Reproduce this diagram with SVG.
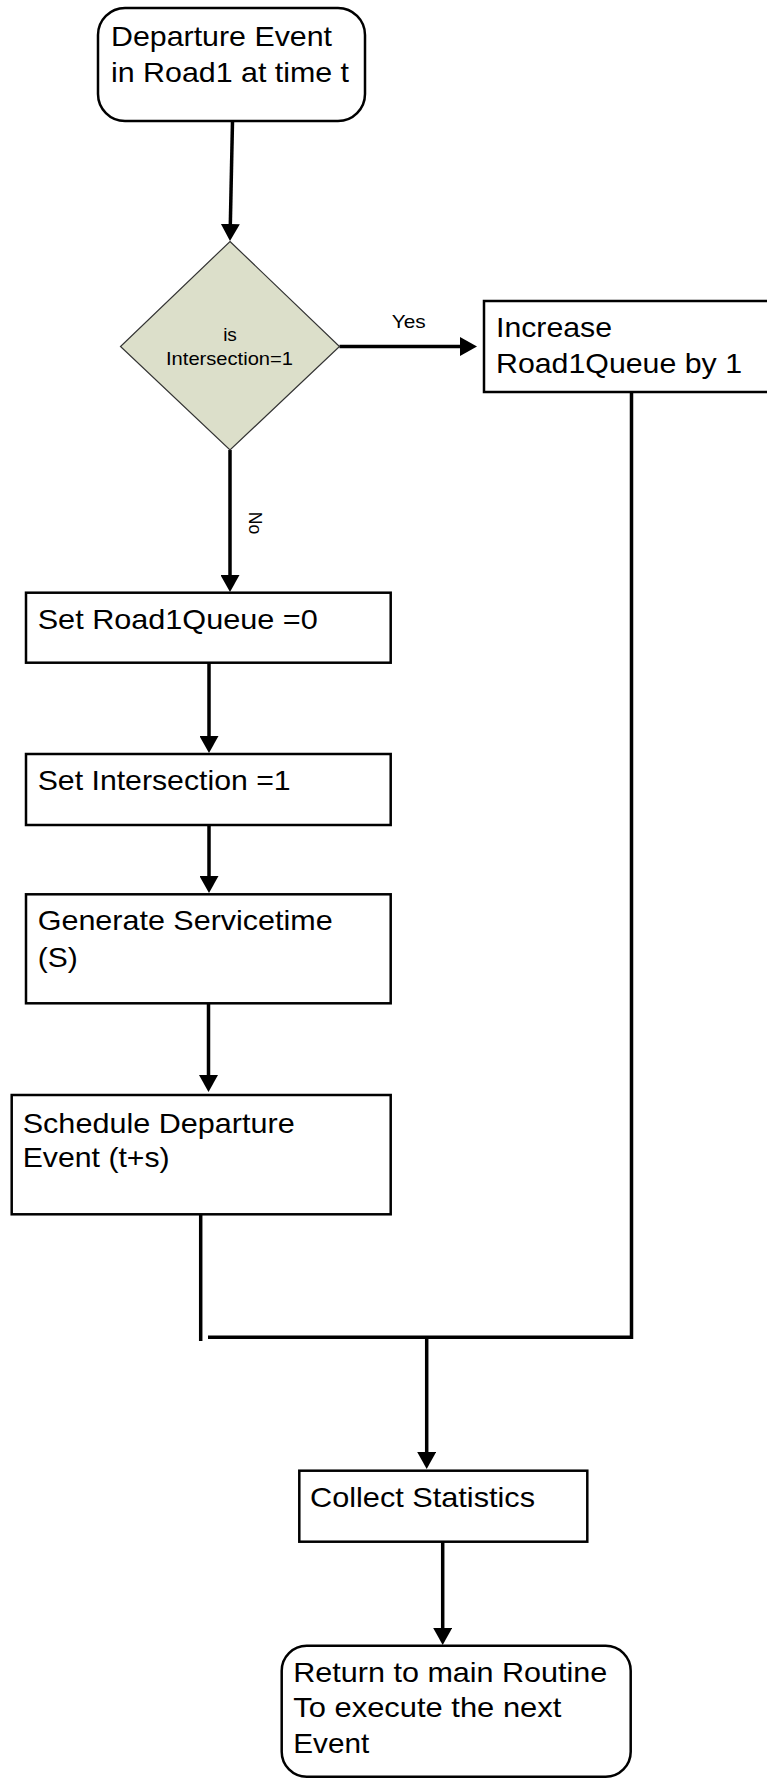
<svg xmlns="http://www.w3.org/2000/svg" width="767" height="1780" viewBox="0 0 767 1780">
  <style>
    .box { fill: #ffffff; stroke: #000000; stroke-width: 2.5; }
    .dec { fill: #dcdfca; stroke: #333333; stroke-width: 1.2; }
    .lbl { font-family: "Liberation Sans", Arial, sans-serif; font-size: 28px; fill: #000000; }
    .small { font-family: "Liberation Sans", Arial, sans-serif; font-size: 19px; fill: #000000; }
    .link { fill: none; stroke: #000000; stroke-width: 3.5; }
  </style>
  <defs>
    <marker id="arrow" markerUnits="userSpaceOnUse" viewBox="0 0 17 19" markerWidth="17" markerHeight="19" refX="11" refY="9.5" orient="auto">
      <path d="M0,0 L17,9.5 L0,19 z" fill="#000000"/>
    </marker>
  </defs>

  <rect width="767" height="1780" fill="#ffffff"/>

  <!-- flow links -->
  <g id="connectors">
    <line class="link" x1="232.5" y1="121" x2="230.1" y2="235" marker-end="url(#arrow)"/>
    <line class="link" x1="339.5" y1="346.5" x2="471" y2="346.5" marker-end="url(#arrow)"/>
    <line class="link" x1="230" y1="450" x2="230" y2="586" marker-end="url(#arrow)"/>
    <line class="link" x1="209" y1="663" x2="209" y2="747" marker-end="url(#arrow)"/>
    <line class="link" x1="209" y1="825" x2="209" y2="887" marker-end="url(#arrow)"/>
    <line class="link" x1="208.5" y1="1003" x2="208.5" y2="1086" marker-end="url(#arrow)"/>
    <line class="link" x1="200.7" y1="1214" x2="200.7" y2="1341"/>
    <polyline class="link" points="631.5,392 631.5,1337.3 208,1337.3"/>
    <line class="link" x1="426.7" y1="1337" x2="426.7" y2="1463" marker-end="url(#arrow)"/>
    <line class="link" x1="442.7" y1="1542" x2="442.7" y2="1639" marker-end="url(#arrow)"/>
    <text class="small" x="391.7" y="328.3" textLength="34" lengthAdjust="spacingAndGlyphs">Yes</text>
    <text class="small" font-size="18" transform="translate(249.3 511.7) rotate(90)" x="0" y="0" textLength="22.5" lengthAdjust="spacingAndGlyphs">No</text>
  </g>

  <g id="start">
    <rect class="box" x="98" y="8" width="267" height="113" rx="27" ry="27"/>
    <text class="lbl" x="111" y="46" textLength="221" lengthAdjust="spacingAndGlyphs">Departure Event</text>
    <text class="lbl" x="111" y="82" textLength="238" lengthAdjust="spacingAndGlyphs">in Road1 at time t</text>
  </g>

  <g id="decision">
    <polygon class="dec" points="230,241.5 339.5,346.5 230,450 120.5,346.5"/>
    <text class="small" x="230" y="340.7" text-anchor="middle">is</text>
    <text class="small" x="229.5" y="365" text-anchor="middle" textLength="127" lengthAdjust="spacingAndGlyphs">Intersection=1</text>
  </g>

  <g id="increase">
    <rect class="box" x="484" y="301" width="300" height="91"/>
    <text class="lbl" x="496" y="336.7" textLength="116" lengthAdjust="spacingAndGlyphs">Increase</text>
    <text class="lbl" x="496" y="373.3" textLength="246" lengthAdjust="spacingAndGlyphs">Road1Queue by 1</text>
  </g>

  <g id="set-queue">
    <rect class="box" x="26" y="592.7" width="364.7" height="70"/>
    <text class="lbl" x="37.7" y="629" textLength="280" lengthAdjust="spacingAndGlyphs">Set Road1Queue =0</text>
  </g>

  <g id="set-intersection">
    <rect class="box" x="26" y="754" width="364.7" height="71"/>
    <text class="lbl" x="37.7" y="790" textLength="253" lengthAdjust="spacingAndGlyphs">Set Intersection =1</text>
  </g>

  <g id="service-time">
    <rect class="box" x="26" y="894.3" width="364.7" height="109"/>
    <text class="lbl" x="37.7" y="930" textLength="295" lengthAdjust="spacingAndGlyphs">Generate Servicetime</text>
    <text class="lbl" x="37.7" y="967" textLength="40" lengthAdjust="spacingAndGlyphs">(S)</text>
  </g>

  <g id="schedule">
    <rect class="box" x="11.7" y="1095" width="379" height="119.3"/>
    <text class="lbl" x="22.7" y="1132.7" textLength="272" lengthAdjust="spacingAndGlyphs">Schedule Departure</text>
    <text class="lbl" x="22.7" y="1167.3" textLength="147" lengthAdjust="spacingAndGlyphs">Event (t+s)</text>
  </g>

  <g id="collect">
    <rect class="box" x="299.3" y="1470.7" width="288" height="71"/>
    <text class="lbl" x="310" y="1506.7" textLength="225" lengthAdjust="spacingAndGlyphs">Collect Statistics</text>
  </g>

  <g id="return">
    <rect class="box" x="281.7" y="1645.7" width="349" height="131" rx="25" ry="25"/>
    <text class="lbl" x="293.3" y="1681.7" textLength="314" lengthAdjust="spacingAndGlyphs">Return to main Routine</text>
    <text class="lbl" x="293.3" y="1717.3" textLength="268" lengthAdjust="spacingAndGlyphs">To execute the next</text>
    <text class="lbl" x="293.3" y="1753.3" textLength="76" lengthAdjust="spacingAndGlyphs">Event</text>
  </g>
</svg>
